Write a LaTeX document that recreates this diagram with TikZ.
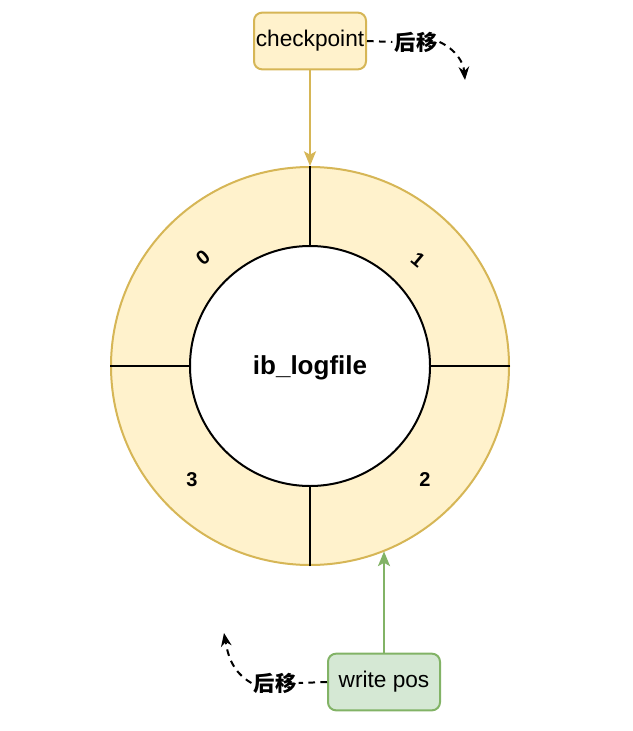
\documentclass[tikz,border=0pt]{standalone}
\usepackage{fontspec}
\setmainfont{Liberation Sans}
\newfontfamily\cjk{Noto Sans CJK SC}
\usetikzlibrary{arrows.meta, positioning}
\definecolor{ringfill}{HTML}{FFF2CC}
\definecolor{ringline}{HTML}{D6B656}
\definecolor{posfill}{HTML}{D5E8D4}
\definecolor{posline}{HTML}{82B366}

\begin{document}
\begin{tikzpicture}[x=0.75pt, y=-0.75pt,
          ptr/.style={rectangle, rounded corners=6pt, line width=1.5pt,
                      minimum width=84pt, minimum height=42.5pt,
                      inner sep=0pt, font=\fontsize{17}{20}\selectfont},
          seg/.style={font=\fontsize{15}{18}\selectfont\bfseries},
          mv/.style={font=\cjk\bfseries\fontsize{16}{19}\selectfont,
                     inner sep=1.5pt},
          arr/.style={-{Stealth[length=11pt, width=9pt, inset=2.5pt]},
                      line width=1.5pt},
          back/.style={-{Stealth[length=10pt, width=8pt]}, line width=1.5pt,
                       dash pattern=on 5pt off 4pt},
        ]
          \useasboundingbox (0,0) rectangle (632,731);

          % log ring
          \node[circle, draw=ringline, fill=ringfill, line width=1.5pt,
                minimum size=298.5pt, inner sep=0pt] (ring) at (310,366) {};
          \node[circle, draw=black, fill=white, line width=1.5pt,
                minimum size=180pt, inner sep=0pt,
                font=\fontsize{19.5}{22}\selectfont\bfseries] (core) at (310,366) {};
          \node[font=\fontsize{19.5}{22}\selectfont\bfseries] (name) at (310,368) {ib\_logfile};

          \draw[line width=1.5pt] (ring.north) -- (core.north);
          \draw[line width=1.5pt] (ring.south) -- (core.south);
          \draw[line width=1.5pt] (ring.west)  -- (core.west);
          \draw[line width=1.5pt] (ring.east)  -- (core.east);

          \node[seg, rotate=40]  (f0) at (203,258) {0};
          \node[seg, rotate=-40] (f1) at (418,260) {1};
          \node[seg]             (f2) at (425,480) {2};
          \node[seg]             (f3) at (192,480) {3};

          % pointers
          \node[ptr, draw=ringline, fill=ringfill] (ckpt) at (310,41)  {checkpoint};
          \node[ptr, draw=posline,  fill=posfill]  (wpos) at (384,682) {write pos};

          \draw[arr, draw=ringline, fill=ringline] (ckpt.south) -- (ring.north);
          \draw[arr, draw=posline,  fill=posline]  (wpos.north) -- (wpos.north |- ring.-68.3);

          % moving direction
          \node[mv] (mvA) at (416,42)  {后移};
          \node[mv] (mvB) at (275,683) {后移};
          \coordinate (tipA) at (465,80);
          \coordinate (tipB) at (224,633);

          \draw[line width=1.5pt, dash pattern=on 5pt off 4pt] (ckpt.east) -- (mvA.west);
          \draw[back] (mvA.east) to[out=-25, in=95] (tipA);
          \draw[line width=1.5pt, dash pattern=on 5pt off 4pt] (wpos.west) -- (mvB.east);
          \draw[back] (mvB.west) to[out=150, in=-80] (tipB);
        \end{tikzpicture}
\end{document}
